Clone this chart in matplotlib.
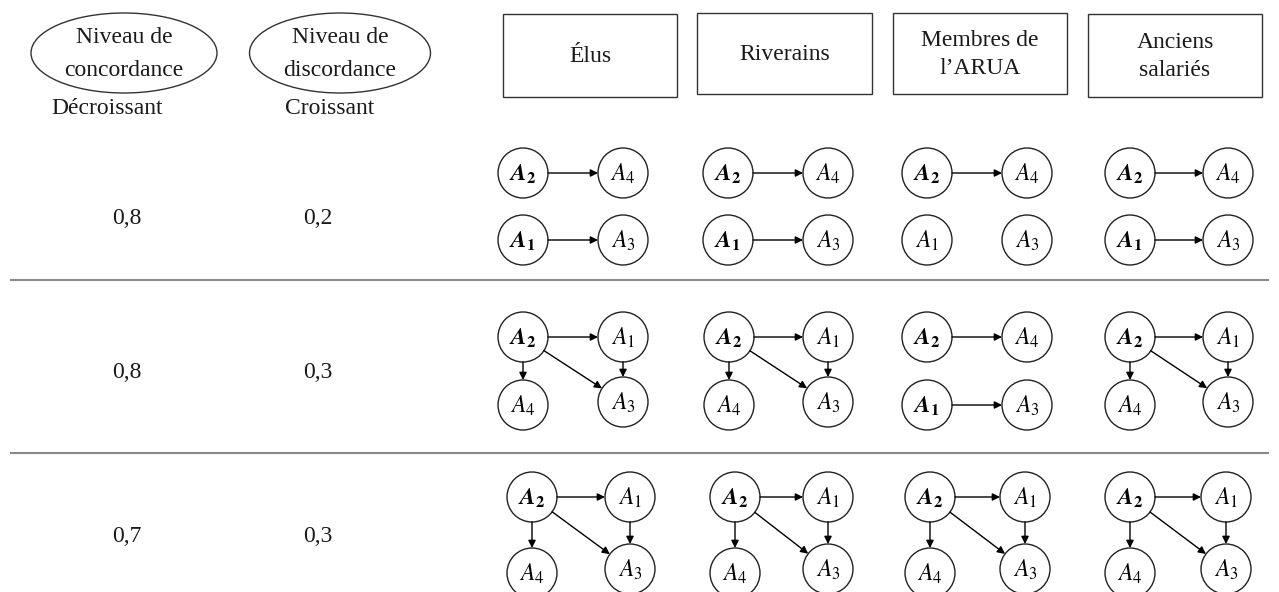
import numpy as np
import matplotlib
matplotlib.use('Agg')
import matplotlib.pyplot as plt
from matplotlib.patches import Circle, Ellipse, Rectangle

plt.rcParams['font.family'] = ['Liberation Serif', 'DejaVu Serif']
plt.rcParams['mathtext.fontset'] = 'stix'

# --- donnees ---
groupes = ['Élus', 'Riverains', 'Membres de\nl’ARUA', 'Anciens\nsalariés']
concordance = ['0,8', '0,8', '0,7']
discordance = ['0,2', '0,3', '0,3']

# arcs (surclassements) par ligne puis par groupe
arcs = [
    [[(2, 4), (1, 3)], [(2, 4), (1, 3)], [(2, 4)], [(2, 4), (1, 3)]],
    [[(2, 1), (2, 4), (2, 3), (1, 3)], [(2, 1), (2, 4), (2, 3), (1, 3)],
     [(2, 4), (1, 3)], [(2, 1), (2, 4), (2, 3), (1, 3)]],
    [[(2, 1), (2, 4), (2, 3), (1, 3)], [(2, 1), (2, 4), (2, 3), (1, 3)],
     [(2, 1), (2, 4), (2, 3), (1, 3)], [(2, 1), (2, 4), (2, 3), (1, 3)]],
]
# actions en gras (noyau)
gras = [
    [{1, 2}, {1, 2}, {2}, {1, 2}],
    [{2}, {2}, {1, 2}, {2}],
    [{2}, {2}, {2}, {2}],
]

# --- mise en page (pixels) ---
W, H = 1279, 592
fig = plt.figure(figsize=(W / 100, H / 100), dpi=100)
ax = fig.add_axes([0, 0, 1, 1])
ax.set_xlim(0, W)
ax.set_ylim(H, 0)
ax.set_aspect('equal')
ax.axis('off')

fs = 17
txtcol = '#1a1a1a'

# en-tetes gauche
for cx, w, lab in [(124, 186, 'Niveau de\nconcordance'), (340, 181, 'Niveau de\ndiscordance')]:
    ax.add_patch(Ellipse((cx, 53), w, 80, fill=False, ec='#333333', lw=1))
    ax.text(cx, 54, lab, ha='center', va='center', fontsize=fs, color=txtcol, linespacing=1.7)
ax.text(107, 108, 'Décroissant', ha='center', va='center', fontsize=fs, color=txtcol)
ax.text(330, 108, 'Croissant', ha='center', va='center', fontsize=fs, color=txtcol)

# boites des groupes
boites = [(503, 677, 14, 97), (697, 872, 13, 94), (893, 1067, 13, 94), (1088, 1262, 14, 97)]
for (x0, x1, y0, y1), g in zip(boites, groupes):
    ax.add_patch(Rectangle((x0, y0), x1 - x0, y1 - y0, fill=False, ec='#333333', lw=1))
    ax.text((x0 + x1) / 2, (y0 + y1) / 2 + 1, g, ha='center', va='center', fontsize=fs,
            color=txtcol, linespacing=1.4)

# separateurs
for y in [280, 453]:
    ax.plot([11, 1268], [y, y], color='#8a8a8a', lw=1.5)

# positions des graphes
row_y = [(173, 240, 240), (337, 405, 402), (497, 573, 569)]
col_x = [
    [(523, 623), (728, 828), (927, 1027), (1130, 1228)],
    [(523, 623), (729, 828), (927, 1027), (1130, 1228)],
    [(532, 630), (735, 828), (930, 1025), (1130, 1226)],
]
row_txt_y = [218, 372, 536]
R = 25

for i in range(3):
    ax.text(127, row_txt_y[i], concordance[i], ha='center', va='center', fontsize=fs, color=txtcol)
    ax.text(318, row_txt_y[i], discordance[i], ha='center', va='center', fontsize=fs, color=txtcol)
    yt, yb, yb3 = row_y[i]
    for j in range(4):
        xl, xr = col_x[i][j]
        e = arcs[i][j]
        if (2, 1) in e:
            pos = {2: (xl, yt), 1: (xr, yt), 4: (xl, yb), 3: (xr, yb3)}
        else:
            pos = {2: (xl, yt), 4: (xr, yt), 1: (xl, yb), 3: (xr, yb)}
        for k, (x, y) in pos.items():
            ax.add_patch(Circle((x, y), R, fill=False, ec='#222222', lw=1))
            if k in gras[i][j]:
                lab = r'$\mathbfit{A}_{\mathbf{%d}}$' % k
            else:
                lab = r'$A_{%d}$' % k
            ax.text(x, y + 1, lab, ha='center', va='center', fontsize=17, color='black')
        for a, b in e:
            p, q = np.array(pos[a], float), np.array(pos[b], float)
            d = (q - p) / np.linalg.norm(q - p)
            ax.annotate('', xy=q - d * R, xytext=p + d * R,
                        arrowprops=dict(arrowstyle='-|>', color='black', lw=1,
                                        shrinkA=0, shrinkB=0, mutation_scale=11))

fig.savefig('out.png', dpi=100)
